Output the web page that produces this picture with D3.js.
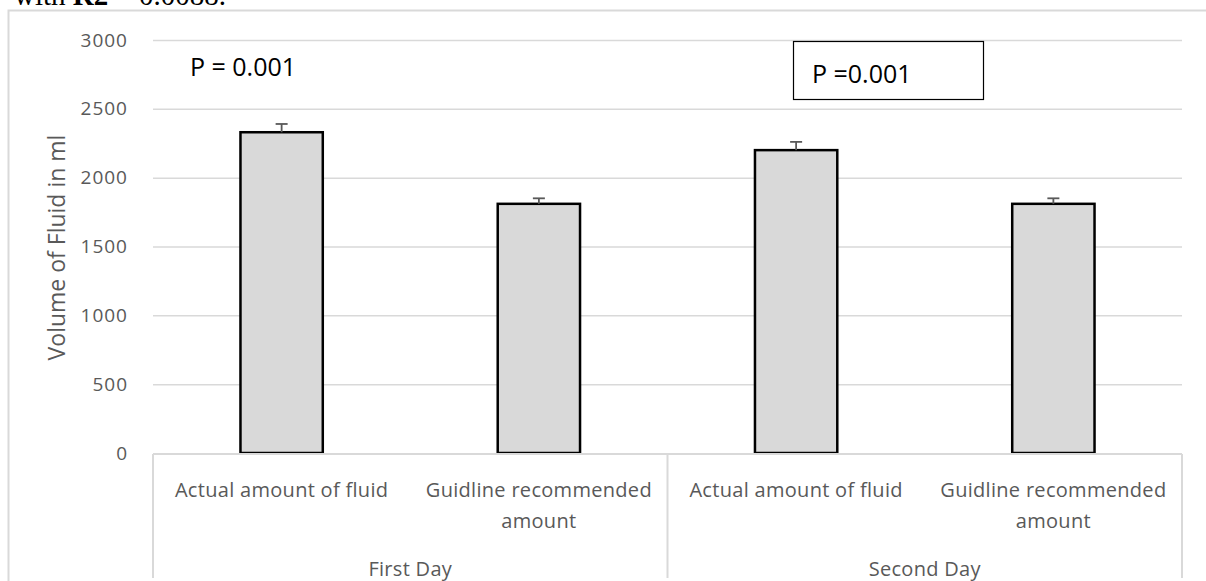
<!DOCTYPE html>
<html>
<head>
<meta charset="utf-8">
<script src="https://cdn.jsdelivr.net/npm/d3@7"></script>
<style>
  html, body { margin: 0; padding: 0; background: #fff; }
  svg { display: block; }
</style>
</head>
<body>
<svg id="chart" width="1206" height="581"></svg>
<script>
// Fluid volume per day: actual amount given vs guideline recommendation
const groups = ["First Day", "Second Day"];
const categoryLines = [
  ["Actual amount of fluid"],
  ["Guidline recommended", "amount"],
  ["Actual amount of fluid"],
  ["Guidline recommended", "amount"]
];
const barValues = [2330, 1810, 2200, 1810];
const barErrors = [60, 40, 60, 40];
const yTicks = [0, 500, 1000, 1500, 2000, 2500, 3000];
const pLabels = ["P = 0.001", "P =0.001"];
const yTitle = "Volume of Fluid in ml";

const svg = d3.select("#chart");
const W = 1206, H = 581;
const plotLeft = 153, plotRight = 1182, plotTop = 40, plotBottom = 453;
const grid = "#d9d9d9";
const textGray = "#595959";

// caption line from the surrounding page, running off the top edge
const cap = svg.append("text")
  .attr("x", 14).attr("y", 5)
  .attr("font-family", "Liberation Serif, serif")
  .attr("font-size", 29)
  .attr("fill", "#000");
cap.append("tspan").text("with ");
cap.append("tspan").attr("font-weight", "bold").text("R2");
cap.append("tspan").text(" = 0.0088.");

// chart frame
svg.append("path")
  .attr("d", `M8.5,${H} V10.5 H${W}`)
  .attr("fill", "none").attr("stroke", grid).attr("stroke-width", 2);

const idx = d3.range(barValues.length);
const x = d3.scaleBand().domain(idx).range([plotLeft, plotRight]).paddingInner(0).paddingOuter(0);
const y = d3.scaleLinear().domain([0, 3000]).range([plotBottom, plotTop]);

// gridlines and value ticks
const yAxis = d3.axisLeft(y).tickValues(yTicks).tickSize(-(plotRight - plotLeft)).tickPadding(25)
  .tickFormat(d3.format("d"));
const ga = svg.append("g").attr("transform", `translate(${plotLeft},0)`).call(yAxis);
ga.select(".domain").remove();
ga.selectAll(".tick line").attr("stroke", grid).attr("stroke-width", 1.5)
  .filter(d => d === 0).remove();
ga.selectAll(".tick text")
  .attr("font-family", "Open Sans, sans-serif")
  .attr("font-size", 19)
  .attr("letter-spacing", 1)
  .attr("fill", textGray);

// y axis title
svg.append("text")
  .attr("transform", `translate(65,${(plotTop + plotBottom) / 2 + 1}) rotate(-90)`)
  .attr("text-anchor", "middle")
  .attr("font-family", "Open Sans, sans-serif")
  .attr("font-size", 23)
  .attr("fill", textGray)
  .text(yTitle);

// bars
const barW = x.bandwidth() * 0.32;
svg.append("g").selectAll("rect").data(idx).join("rect")
  .attr("x", i => x(i) + (x.bandwidth() - barW) / 2)
  .attr("y", i => y(barValues[i]))
  .attr("width", barW)
  .attr("height", i => y(0) - y(barValues[i]))
  .attr("fill", "#d9d9d9")
  .attr("stroke", "#000")
  .attr("stroke-width", 2.5);

// error bars (upper)
const eg = svg.append("g").attr("stroke", "#595959").attr("stroke-width", 1.8);
idx.forEach(i => {
  const cx = x(i) + x.bandwidth() / 2;
  eg.append("line").attr("x1", cx).attr("x2", cx)
    .attr("y1", y(barValues[i])).attr("y2", y(barValues[i] + barErrors[i]));
  eg.append("line").attr("x1", cx - 6).attr("x2", cx + 6)
    .attr("y1", y(barValues[i] + barErrors[i])).attr("y2", y(barValues[i] + barErrors[i]));
});

// category axis with group boxes
const ax = svg.append("g").attr("stroke", grid).attr("stroke-width", 2).attr("fill", "none");
ax.append("line").attr("x1", plotLeft).attr("x2", plotRight).attr("y1", plotBottom + 1).attr("y2", plotBottom + 1);
[0, 2, 4].forEach(k => {
  const xx = k < 4 ? x(k) : plotRight;
  ax.append("line").attr("x1", xx).attr("x2", xx).attr("y1", plotBottom + 1).attr("y2", 578);
});

// category labels
const cl = svg.append("g")
  .attr("font-family", "Open Sans, sans-serif")
  .attr("font-size", 20)
  .attr("letter-spacing", 0.3)
  .attr("fill", textGray)
  .attr("text-anchor", "middle");
idx.forEach(i => {
  const t = cl.append("text").attr("x", x(i) + x.bandwidth() / 2).attr("y", 497);
  categoryLines[i].forEach((ln, j) => {
    t.append("tspan").attr("x", x(i) + x.bandwidth() / 2).attr("dy", j === 0 ? 0 : 31).text(ln);
  });
});
groups.forEach((g, k) => {
  cl.append("text")
    .attr("x", (x(2 * k) + x(2 * k + 1) + x.bandwidth()) / 2)
    .attr("y", 576)
    .text(g);
});

// significance annotations
const pFont = "Open Sans, sans-serif";
svg.append("text").attr("x", 190).attr("y", 76)
  .attr("font-family", pFont).attr("font-size", 25).attr("fill", "#000")
  .text(pLabels[0]);
svg.append("rect").attr("x", 793.5).attr("y", 41.5).attr("width", 190).attr("height", 58)
  .attr("fill", "#fff").attr("stroke", "#000").attr("stroke-width", 1.2);
svg.append("text").attr("x", 812).attr("y", 83)
  .attr("font-family", pFont).attr("font-size", 25).attr("fill", "#000")
  .text(pLabels[1]);
</script>
</body>
</html>
